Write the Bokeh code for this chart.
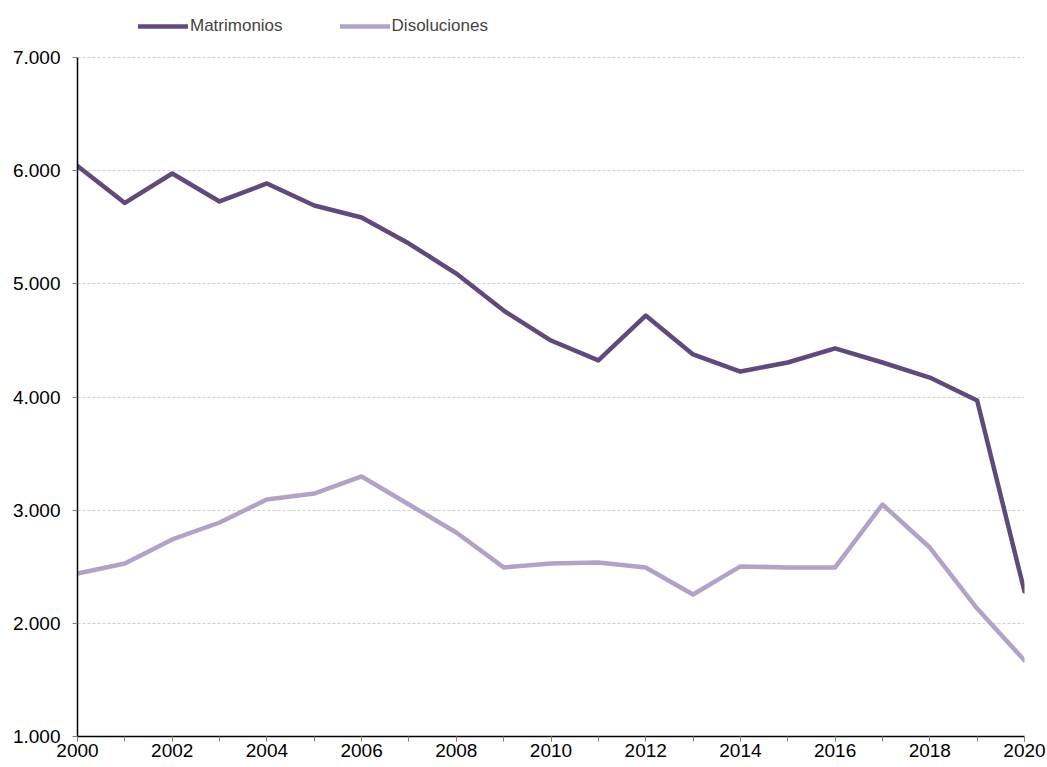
from bokeh.plotting import figure
from bokeh.models import FixedTicker, Range1d, Legend, LegendItem
from bokeh.embed import file_html
from bokeh.resources import INLINE

years = list(range(2000, 2021))
matrimonios = [6040, 5715, 5975, 5728, 5887, 5692, 5586, 5356, 5091, 4764, 4499,
               4323, 4720, 4376, 4225, 4305, 4429, 4305, 4172, 3969, 2281]
disoluciones = [2440, 2529, 2741, 2891, 3094, 3147, 3298, 3050, 2803, 2494, 2529,
                2538, 2494, 2255, 2503, 2494, 2494, 3050, 2670, 2131, 1672]
y_ticks = [1000, 2000, 3000, 4000, 5000, 6000, 7000]
y_labels = ["1.000", "2.000", "3.000", "4.000", "5.000", "6.000", "7.000"]
x_ticks = list(range(2000, 2021, 2))

FONT = "Liberation Sans"
W, H = 1046, 767
FRAME_TOP, FRAME_BOTTOM, FRAME_LEFT, FRAME_RIGHT = 0, 736, 77, 1024
Y7000_PX = 57  # pixel row of the 7.000 gridline
frame_h = FRAME_BOTTOM - FRAME_TOP
y_top = 1000 + 6000 * frame_h / (FRAME_BOTTOM - Y7000_PX)

p = figure(width=W, height=H, output_backend="svg", toolbar_location=None,
           x_range=Range1d(2000, 2020), y_range=Range1d(1000, y_top),
           min_border_left=FRAME_LEFT, min_border_right=W - FRAME_RIGHT,
           min_border_top=FRAME_TOP, min_border_bottom=H - FRAME_BOTTOM)
p.outline_line_color = None
p.background_fill_color = "white"

r1 = p.line(years, matrimonios, line_color="#604a7b", line_width=4.5,
            line_join="round", line_cap="round")
r2 = p.line(years, disoluciones, line_color="#b3a2c7", line_width=4.5,
            line_join="round", line_cap="round")

# y axis
p.yaxis.ticker = FixedTicker(ticks=y_ticks)
p.yaxis.bounds = (1000, 7000)
p.yaxis.major_label_overrides = {t: l for t, l in zip(y_ticks, y_labels)}
p.yaxis.major_label_text_font = FONT
p.yaxis.major_label_text_font_size = "19px"
p.yaxis.major_label_text_color = "#000000"
p.yaxis.axis_line_color = "#000000"
p.yaxis.axis_line_width = 1.5
p.yaxis.major_tick_in = 0
p.yaxis.major_tick_out = 5
p.yaxis.major_tick_line_color = "#808080"
p.yaxis.minor_tick_line_color = None
p.yaxis.major_label_standoff = 12

# x axis
p.xaxis.ticker = FixedTicker(ticks=x_ticks, minor_ticks=years)
p.xaxis.major_label_overrides = {t: str(t) for t in x_ticks}
p.xaxis.major_label_text_font = FONT
p.xaxis.major_label_text_font_size = "19px"
p.xaxis.major_label_text_color = "#000000"
p.xaxis.axis_line_color = "#000000"
p.xaxis.axis_line_width = 1.5
p.xaxis.major_tick_in = 0
p.xaxis.major_tick_out = 5
p.xaxis.minor_tick_in = 0
p.xaxis.minor_tick_out = 5
p.xaxis.major_tick_line_color = "#808080"
p.xaxis.minor_tick_line_color = "#808080"
p.xaxis.major_label_standoff = 2

p.xgrid.grid_line_color = None
p.ygrid.grid_line_color = "#d0d0d0"
p.ygrid.grid_line_dash = "3 2"
p.ygrid.grid_line_width = 1

legend = Legend(items=[LegendItem(label="Matrimonios", renderers=[r1]),
                       LegendItem(label="Disoluciones", renderers=[r2])],
                location=(61, frame_h - 36), orientation="horizontal",
                glyph_width=50, glyph_height=18, label_standoff=2, spacing=57,
                label_text_font=FONT, label_text_font_size="17px",
                label_text_baseline="middle",
                background_fill_alpha=0, border_line_color=None,
                padding=0, margin=0)
p.add_layout(legend, "center")

open("out.html", "w").write(file_html(p, INLINE))
